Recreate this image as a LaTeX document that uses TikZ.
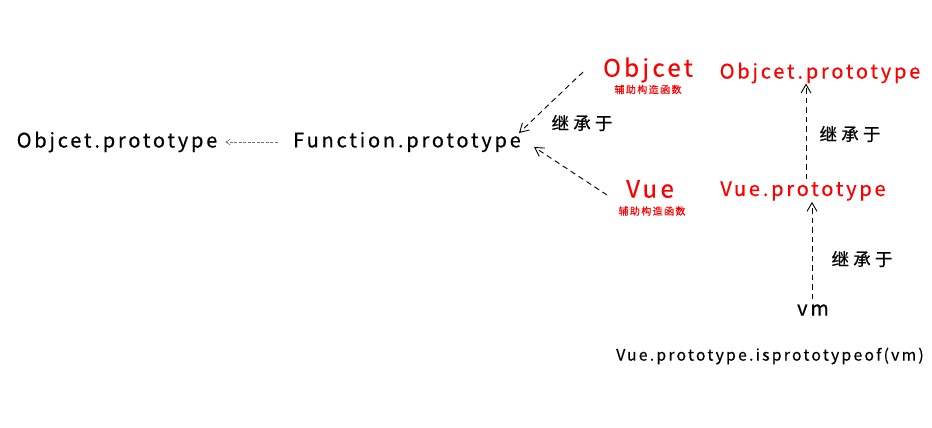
\documentclass[tikz,border=0pt]{standalone}
\usepackage{fontspec}
\setmainfont{Noto Sans CJK SC}[LetterSpace=14, FakeBold=0.5]
\usetikzlibrary{arrows.meta,positioning}
\definecolor{hilite}{RGB}{250,0,0}
\definecolor{linkgray}{RGB}{110,110,110}

\begin{document}
\begin{tikzpicture}[x=1pt, y=-1pt, >={Straight Barb[angle=60:10pt]},
  protolbl/.style={font=\fontsize{20}{23}\selectfont, inner sep=1pt},
  big/.style={font=\fontsize{24}{27}\selectfont, inner sep=1pt, text=hilite},
  tag/.style={font=\fontsize{10}{12}\selectfont, inner sep=0pt, text=hilite},
  via/.style={font=\fontsize{17.5}{20}\selectfont\addfontfeature{LetterSpace=24}, inner sep=0pt},
  link/.style={->, dash pattern=on 5.5pt off 4pt, line width=0.9pt}]
\useasboundingbox (0,0) rectangle (932,428);
% left chain
\node[protolbl] (objproto) at (117,142) {Objcet.prototype};
\node[protolbl] (funcproto) at (407,142) {Function.prototype};
\coordinate (fstart) at ([xshift=-14pt]funcproto.west);
\draw[link, linkgray, line width=0.6pt, >={Straight Barb[angle=70:5pt]},
  dash pattern=on 3pt off 1.5pt, shorten >=7pt]
  (fstart) -- (objproto.east);
% constructors
\node[big] (objctor) at (648,70) {Objcet};
\node[tag, below=1pt of objctor] (objtag) {辅助构造函数};
\node[big] (vuector) at (650,189) {Vue};
\node[tag] (vuetag) at (652,211) {辅助构造函数};
\coordinate (objend) at (583,72);
\coordinate (vueend) at (607,195);
\draw[link] (objend) -- ([xshift=-3pt, yshift=9pt]funcproto.east);
\draw[link] (vueend) -- ([xshift=12pt, yshift=-5pt]funcproto.east);
\node[via] (via1) at (582,123) {继承于};
% right chain
\node[protolbl, text=hilite] (objproto2) at (820,73) {Objcet.prototype};
\node[protolbl, text=hilite] (vueproto) at (803,191) {Vue.prototype};
\node[protolbl] (vm) at (813,310) {vm};
\draw[link] ([xshift=3pt, yshift=1pt]vueproto.north) -- ([xshift=-14pt, yshift=1pt]objproto2.south);
\node[via] (via2) at (850,134) {继承于};
\draw[link] ([xshift=-1pt, yshift=4pt]vm.north) -- ([xshift=9pt]vueproto.south);
\node[via] (via3) at (862,259) {继承于};
\node[protolbl, font=\fontsize{15.8}{19}\selectfont] (check) at (770,356) {Vue.prototype.isprototypeof(vm)};
\end{tikzpicture}
\end{document}
